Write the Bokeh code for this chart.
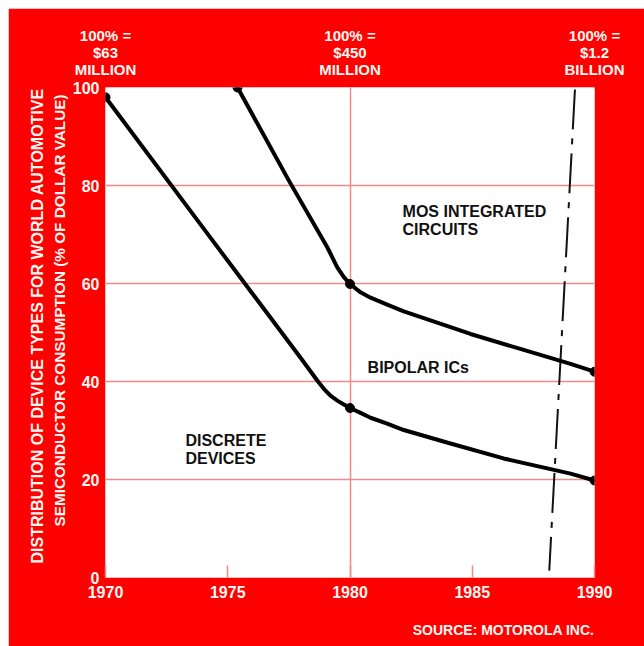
from bokeh.plotting import figure
from bokeh.models import Label, FixedTicker, Range1d, LinearAxis, Title, Spacer
from bokeh.layouts import column, row
from bokeh.embed import file_html
from bokeh.resources import INLINE

# ---- data ----
year_ticks = [1970, 1975, 1980, 1985, 1990]
pct_ticks = [0, 20, 40, 60, 80, 100]

# boundary between DISCRETE DEVICES (below) and BIPOLAR ICs (above)
discrete_years = [1970, 1974, 1978, 1978.66, 1978.93, 1979.2, 1979.48, 1979.75, 1980,
                  1980.43, 1980.84, 1981.52, 1982.2, 1984, 1986.28, 1989.02, 1990]
discrete_share = [98, 71.3, 44.7, 40.2, 38.5, 37.1, 36.1, 35.3, 34.6,
                  33.6, 32.6, 31.4, 30.1, 27.5, 24.3, 21.2, 19.8]
discrete_pts_years = [1970, 1980, 1990]
discrete_pts_share = [98, 34.6, 19.8]

# boundary between BIPOLAR ICs (below) and MOS INTEGRATED CIRCUITS (above)
mos_years = [1975.4, 1977.5, 1979.07, 1979.48, 1979.75, 1980, 1980.43, 1980.84,
             1981.52, 1982.2, 1984.93, 1987, 1989.02, 1990]
mos_share = [100, 81.0, 67.4, 63.3, 61.3, 59.9, 58.2, 57.1,
             55.7, 54.3, 49.7, 46.6, 43.6, 42]
mos_pts_years = [1975.4, 1980, 1990]
mos_pts_share = [100, 59.9, 42]

# hand-drawn dashed mark near 1988-89
mark_years = [1989.2, 1988.15]
mark_share = [99.6, 1.4]

market_years = [1970, 1980, 1990]
market_labels = ["100% =\n$63\nMILLION",
                 "100% =\n$450\nMILLION",
                 "100% =\n$1.2\nBILLION"]

region_names = [["MOS INTEGRATED", "CIRCUITS"], ["BIPOLAR ICs"], ["DISCRETE", "DEVICES"]]
region_x = [1982.15, 1980.72, 1973.27]
region_y = [[74.7, 71.0], [42.9], [28.0, 24.3]]

y_title = ["DISTRIBUTION OF DEVICE TYPES FOR WORLD AUTOMOTIVE",
           "SEMICONDUCTOR CONSUMPTION (% OF DOLLAR VALUE)"]
source = "SOURCE: MOTOROLA INC."

# ---- styling ----
RED = "#fe0000"
WHITE = "#fff8f2"
GRID = "#f08a8a"
FONT = "Liberation Sans"

p = figure(width=636, height=638,
           x_range=Range1d(1970, 1990), y_range=Range1d(0, 100),
           output_backend="svg", toolbar_location=None,
           min_border_left=97, min_border_right=50,
           min_border_top=79, min_border_bottom=69,
           background_fill_color="white", border_fill_color=RED,
           outline_line_color=None)

p.xaxis.ticker = FixedTicker(ticks=year_ticks)
p.yaxis.ticker = FixedTicker(ticks=pct_ticks)
for ax in (p.xaxis[0], p.yaxis[0]):
    ax.axis_line_color = None
    ax.minor_tick_line_color = None
    ax.major_tick_out = 0
    ax.major_label_text_color = WHITE
    ax.major_label_text_font = FONT
    ax.major_label_text_font_style = "bold"
    ax.major_label_text_font_size = "16px"
p.xaxis.major_tick_in = 12
p.xaxis.major_tick_line_color = GRID
p.xaxis.major_tick_line_width = 1.5
p.xaxis.major_label_standoff = 8
p.yaxis.major_tick_line_color = None
p.yaxis.major_tick_in = 0
p.yaxis.major_label_standoff = 6

# market size headers as a top axis
top = LinearAxis(ticker=FixedTicker(ticks=market_years),
                 major_label_overrides={y: t for y, t in zip(market_years, market_labels)},
                 axis_line_color=None, major_tick_line_color=None,
                 minor_tick_line_color=None, major_tick_in=0, major_tick_out=0,
                 major_label_standoff=10,
                 major_label_text_color=WHITE, major_label_text_font=FONT,
                 major_label_text_font_style="bold", major_label_text_font_size="15px",
                 major_label_text_line_height=1.0,
                 major_label_text_align="center")
p.add_layout(top, "above")

# y title (two rotated lines)
p.add_layout(Title(text=y_title[1], align="left", offset=51, standoff=4,
                   text_font=FONT, text_font_style="bold", text_font_size="15.3px",
                   text_color=WHITE), "left")
p.add_layout(Title(text=y_title[0], align="left", offset=14, standoff=2,
                   text_font=FONT, text_font_style="bold", text_font_size="16px",
                   text_color=WHITE), "left")

# source (leading blank line pushes it to the bottom edge)
p.add_layout(Title(text="\n" + source, align="right", offset=0, standoff=6,
                   text_font=FONT, text_font_style="bold", text_font_size="14px",
                   text_color=WHITE), "below")

p.xgrid.ticker = FixedTicker(ticks=[1980])
p.ygrid.ticker = FixedTicker(ticks=[20, 40, 60, 80])
p.xgrid.grid_line_color = GRID
p.ygrid.grid_line_color = GRID
p.xgrid.grid_line_width = 1.5
p.ygrid.grid_line_width = 1.5

# dashed mark
p.line(mark_years, mark_share, line_color="#111111", line_width=2, line_dash="40 9 6 9")

# curves
p.line(discrete_years, discrete_share, line_color="black", line_width=4,
       line_join="round", line_cap="round")
p.line(mos_years, mos_share, line_color="black", line_width=4,
       line_join="round", line_cap="round")
p.scatter(discrete_pts_years, discrete_pts_share, size=9, color="black")
p.scatter(mos_pts_years, mos_pts_share, size=9, color="black")

# region labels
for names, x, ys in zip(region_names, region_x, region_y):
    for name, y in zip(names, ys):
        p.add_layout(Label(x=x, y=y, text=name, text_font=FONT, text_font_style="bold",
                           text_font_size="16px", text_color="#111111",
                           text_align="left", text_baseline="middle"))

layout = column(Spacer(height=8), row(Spacer(width=8), p))
open("out.html", "w").write(file_html(layout, INLINE))
